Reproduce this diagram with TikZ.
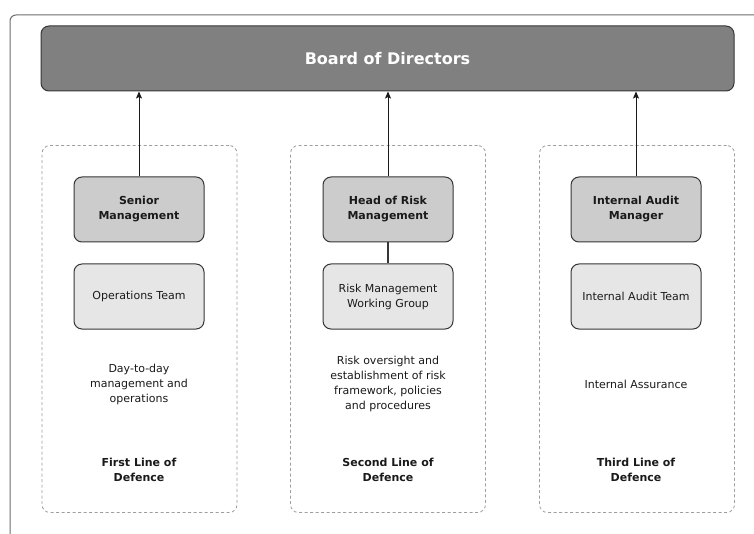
\documentclass[tikz,border=0pt]{standalone}
\usepackage{fontspec}
\setmainfont{DejaVu Sans}
\usepackage{xcolor}
\usepackage{tikz}
\usetikzlibrary{arrows.meta}
\definecolor{ink}{HTML}{1A1A1A}
\definecolor{edge}{HTML}{363636}
\definecolor{boardfill}{HTML}{808080}
\definecolor{leadfill}{HTML}{CCCCCC}
\definecolor{teamfill}{HTML}{E6E6E6}
\definecolor{zoneline}{HTML}{9E9E9E}
\definecolor{frameline}{HTML}{6E6E6E}
\tikzset{
  outer/.style={draw=frameline, line width=1pt, rounded corners=6pt},
  board/.style={draw=edge, fill=boardfill, line width=1pt, rounded corners=8pt,
    minimum width=693pt, minimum height=65pt, text=white,
    font=\fontsize{16}{19}\selectfont\bfseries},
  zone/.style={draw=zoneline, dash pattern=on 3pt off 2.5pt, line width=0.8pt,
    rounded corners=8pt, minimum width=195pt, minimum height=367pt},
  lead/.style={draw=edge, fill=leadfill, line width=1pt, rounded corners=8pt,
    minimum width=130pt, minimum height=65pt, align=center, text=ink,
    font=\fontsize{11}{15}\selectfont\bfseries},
  team/.style={draw=edge, fill=teamfill, line width=1pt, rounded corners=8pt,
    minimum width=130pt, minimum height=65pt, align=center, text=ink,
    font=\fontsize{11}{15}\selectfont},
  note/.style={align=center, text=ink, font=\fontsize{11}{15}\selectfont},
  tag/.style={align=center, text=ink, font=\fontsize{11}{15.5}\selectfont\bfseries},
  feed/.style={draw=ink, line width=1pt, -{Stealth[length=7pt,width=6pt,inset=1.5pt]}},
  link/.style={draw=edge, line width=1.2pt},
}
\begin{document}
\begin{tikzpicture}[x=1pt,y=-1pt]
  \useasboundingbox (0,0) rectangle (754,534);
  \fill[white] (0,0) rectangle (754,534);
  \draw[outer] (10,534) |- (754,15);
  % top
  \node[board] (board) at (387.5,58.5) {Board of Directors};
  % three lines of defence
  \node[zone] (zoneA) at (139.5,329) {};
  \node[zone] (zoneB) at (388,329) {};
  \node[zone] (zoneC) at (637,329) {};
  \node[lead] (senior) at (139,209.5) {Senior\\Management};
  \node[lead] (head) at (388,209.5) {Head of Risk\\Management};
  \node[lead] (audit) at (636,209.5) {Internal Audit\\Manager};
  \node[team] (ops) at (139,296.5) {Operations Team};
  \node[team] (rmwg) at (388,296.5) {Risk Management\\Working Group};
  \node[team] (iat) at (636,296.5) {Internal Audit Team};
  \node[note] (noteA) at (139,384) {Day-to-day\\management and\\operations};
  \node[note] (noteB) at (388,383.5) {Risk oversight and\\establishment of risk\\framework, policies\\and procedures};
  \node[note] (noteC) at (636,384) {Internal Assurance};
  \node[tag] (tagA) at (139,470) {First Line of\\Defence};
  \node[tag] (tagB) at (388,470) {Second Line of\\Defence};
  \node[tag] (tagC) at (636,470) {Third Line of\\Defence};
  % reporting lines
  \draw[feed] (senior.north) -- (senior.north |- board.south);
  \draw[feed] (head.north) -- (head.north |- board.south);
  \draw[feed] (audit.north) -- (audit.north |- board.south);
  \draw[link] (head) -- (rmwg);
\end{tikzpicture}
\end{document}
